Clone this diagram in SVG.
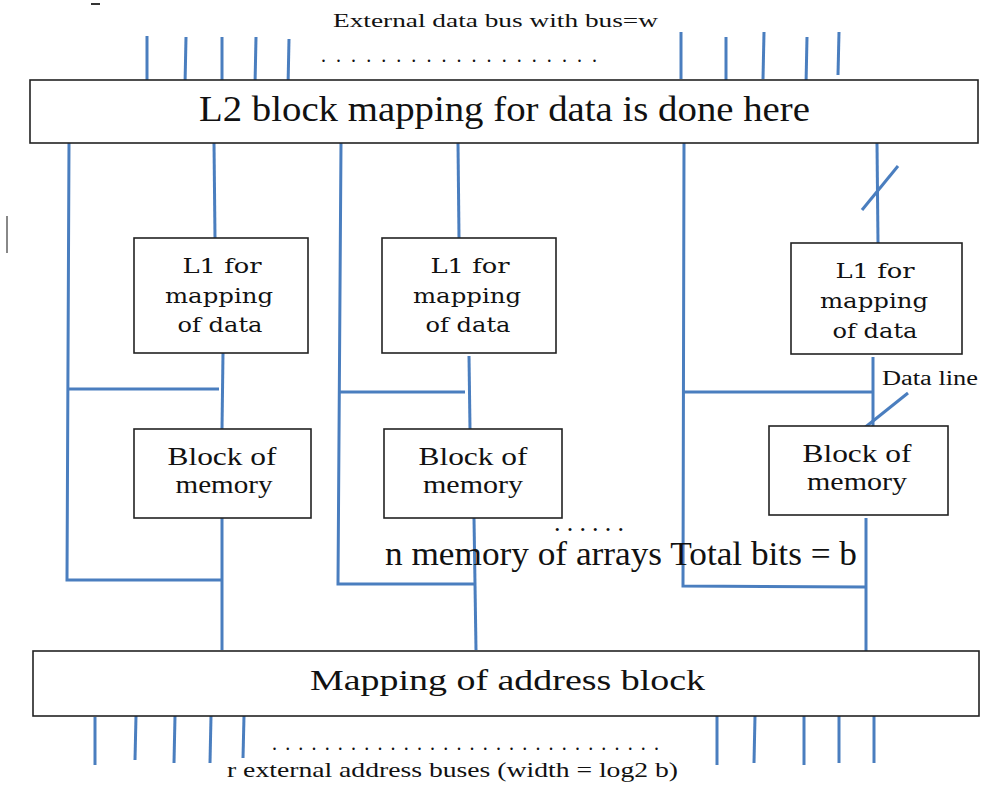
<svg xmlns="http://www.w3.org/2000/svg" width="981" height="790" viewBox="0 0 981 790">
<style>
.box{fill:#fff;stroke:#222;stroke-width:1.6}
.w{stroke:#4a7ebf;stroke-width:3;fill:none;stroke-linecap:butt}
text{fill:#111}
.l1{text-anchor:middle}
.blk{text-anchor:middle}
</style>
<rect width="981" height="790" fill="#fff"/>
<line x1="91" y1="4" x2="100" y2="4" stroke="#333" stroke-width="2"/>
<line x1="7" y1="216" x2="7" y2="253" stroke="#888" stroke-width="2"/>
<g id="connectors">
  <line class="w" x1="147" y1="36" x2="147" y2="84"/>
  <line class="w" x1="186" y1="37" x2="185" y2="85"/>
  <line class="w" x1="222" y1="37" x2="222" y2="85"/>
  <line class="w" x1="256" y1="37" x2="255" y2="85"/>
  <line class="w" x1="289" y1="39" x2="288" y2="87"/>
  <line class="w" x1="681" y1="32" x2="681" y2="79"/>
  <line class="w" x1="726" y1="37" x2="726" y2="85"/>
  <line class="w" x1="764" y1="32" x2="763" y2="79"/>
  <line class="w" x1="807" y1="37" x2="806" y2="85"/>
  <line class="w" x1="839" y1="32" x2="838" y2="75"/>
  <polyline class="w" points="69,143 67,580 222,580"/>
  <line class="w" x1="67" y1="389" x2="219" y2="389"/>
  <line class="w" x1="214" y1="143" x2="215" y2="238"/>
  <line class="w" x1="223" y1="353" x2="222" y2="429"/>
  <line class="w" x1="222" y1="518" x2="222" y2="650"/>
  <polyline class="w" points="341,143 338,584 475,584"/>
  <line class="w" x1="340" y1="392" x2="465" y2="392"/>
  <line class="w" x1="458" y1="143" x2="459" y2="238"/>
  <line class="w" x1="469" y1="356" x2="470" y2="429"/>
  <line class="w" x1="474" y1="518" x2="476" y2="650"/>
  <polyline class="w" points="684,143 683,586 866,587"/>
  <line class="w" x1="684" y1="392" x2="873" y2="392"/>
  <line class="w" x1="877" y1="143" x2="878" y2="243"/>
  <line class="w" x1="862" y1="210" x2="898" y2="166"/>
  <line class="w" x1="873" y1="357" x2="873" y2="437"/>
  <line class="w" x1="863" y1="429" x2="908" y2="393"/>
  <line class="w" x1="866" y1="518" x2="866" y2="652"/>
  <line class="w" x1="95" y1="717" x2="95" y2="765"/>
  <line class="w" x1="136" y1="716" x2="135" y2="760"/>
  <line class="w" x1="175" y1="716" x2="174" y2="763"/>
  <line class="w" x1="211" y1="716" x2="210" y2="763"/>
  <line class="w" x1="244" y1="716" x2="243" y2="758"/>
  <line class="w" x1="717" y1="716" x2="717" y2="765"/>
  <line class="w" x1="755" y1="716" x2="754" y2="763"/>
  <line class="w" x1="804" y1="716" x2="804" y2="765"/>
  <line class="w" x1="839" y1="716" x2="839" y2="763"/>
  <line class="w" x1="874" y1="716" x2="874" y2="763"/>
</g>
<g id="l2" font-family="'Liberation Serif', 'DejaVu Serif', serif">
  <rect class="box" x="30" y="80" width="948" height="63"/>
  <text x="199" y="121" font-size="35" textLength="611" lengthAdjust="spacingAndGlyphs">L2 block mapping for data is done here</text>
</g>
<g id="l1a" font-family="'DejaVu Serif', serif" font-size="20">
  <rect class="box" x="134" y="238" width="174" height="115"/>
  <text class="l1" x="222" y="273" textLength="79" lengthAdjust="spacingAndGlyphs">L1 for</text>
  <text class="l1" x="219" y="303" textLength="108" lengthAdjust="spacingAndGlyphs">mapping</text>
  <text class="l1" x="220" y="332" textLength="85" lengthAdjust="spacingAndGlyphs">of data</text>
</g>
<g id="l1b" font-family="'DejaVu Serif', serif" font-size="20">
  <rect class="box" x="382" y="238" width="174" height="115"/>
  <text class="l1" x="470" y="273" textLength="79" lengthAdjust="spacingAndGlyphs">L1 for</text>
  <text class="l1" x="467" y="303" textLength="108" lengthAdjust="spacingAndGlyphs">mapping</text>
  <text class="l1" x="468" y="332" textLength="85" lengthAdjust="spacingAndGlyphs">of data</text>
</g>
<g id="l1c" font-family="'DejaVu Serif', serif" font-size="20">
  <rect class="box" x="791" y="243" width="171" height="111"/>
  <text class="l1" x="875" y="278" textLength="79" lengthAdjust="spacingAndGlyphs">L1 for</text>
  <text class="l1" x="874" y="308" textLength="108" lengthAdjust="spacingAndGlyphs">mapping</text>
  <text class="l1" x="875" y="338" textLength="85" lengthAdjust="spacingAndGlyphs">of data</text>
</g>
<g id="mem1" font-family="'Liberation Serif', serif" font-size="25">
  <rect class="box" x="134" y="429" width="177" height="89"/>
  <text class="blk" x="222" y="465" textLength="109" lengthAdjust="spacingAndGlyphs">Block of</text>
  <text class="blk" x="224" y="493" textLength="97" lengthAdjust="spacingAndGlyphs">memory</text>
</g>
<g id="mem2" font-family="'Liberation Serif', serif" font-size="25">
  <rect class="box" x="384" y="429" width="178" height="89"/>
  <text class="blk" x="473" y="465" textLength="109" lengthAdjust="spacingAndGlyphs">Block of</text>
  <text class="blk" x="473" y="493" textLength="100" lengthAdjust="spacingAndGlyphs">memory</text>
</g>
<g id="mem3" font-family="'Liberation Serif', serif" font-size="25">
  <rect class="box" x="769" y="426" width="179" height="89"/>
  <text class="blk" x="857" y="462" textLength="109" lengthAdjust="spacingAndGlyphs">Block of</text>
  <text class="blk" x="857" y="490" textLength="100" lengthAdjust="spacingAndGlyphs">memory</text>
</g>
<g id="addr" font-family="'Liberation Serif', serif">
  <rect class="box" x="33" y="651" width="946" height="65"/>
  <text x="310" y="690" font-size="30" textLength="395" lengthAdjust="spacingAndGlyphs">Mapping of address block</text>
</g>
<g id="labels" font-family="'Liberation Serif', serif">
  <text x="333" y="27" font-size="19" textLength="325" lengthAdjust="spacingAndGlyphs">External data bus with bus=w</text>
  <text x="321" y="62" font-size="20" textLength="276" lengthAdjust="spacing">...................</text>
  <text x="882" y="385" font-size="20" textLength="96" lengthAdjust="spacingAndGlyphs">Data line</text>
  <text x="554" y="531" font-size="26" textLength="70" lengthAdjust="spacing">......</text>
  <text x="385" y="565" font-size="34" textLength="472" lengthAdjust="spacingAndGlyphs">n memory of arrays Total bits = b</text>
  <text x="272" y="750" font-size="20" textLength="387" lengthAdjust="spacing">..............................</text>
  <text x="227" y="777" font-size="21" textLength="451" lengthAdjust="spacingAndGlyphs">r external address buses (width = log2 b)</text>
</g>
</svg>
